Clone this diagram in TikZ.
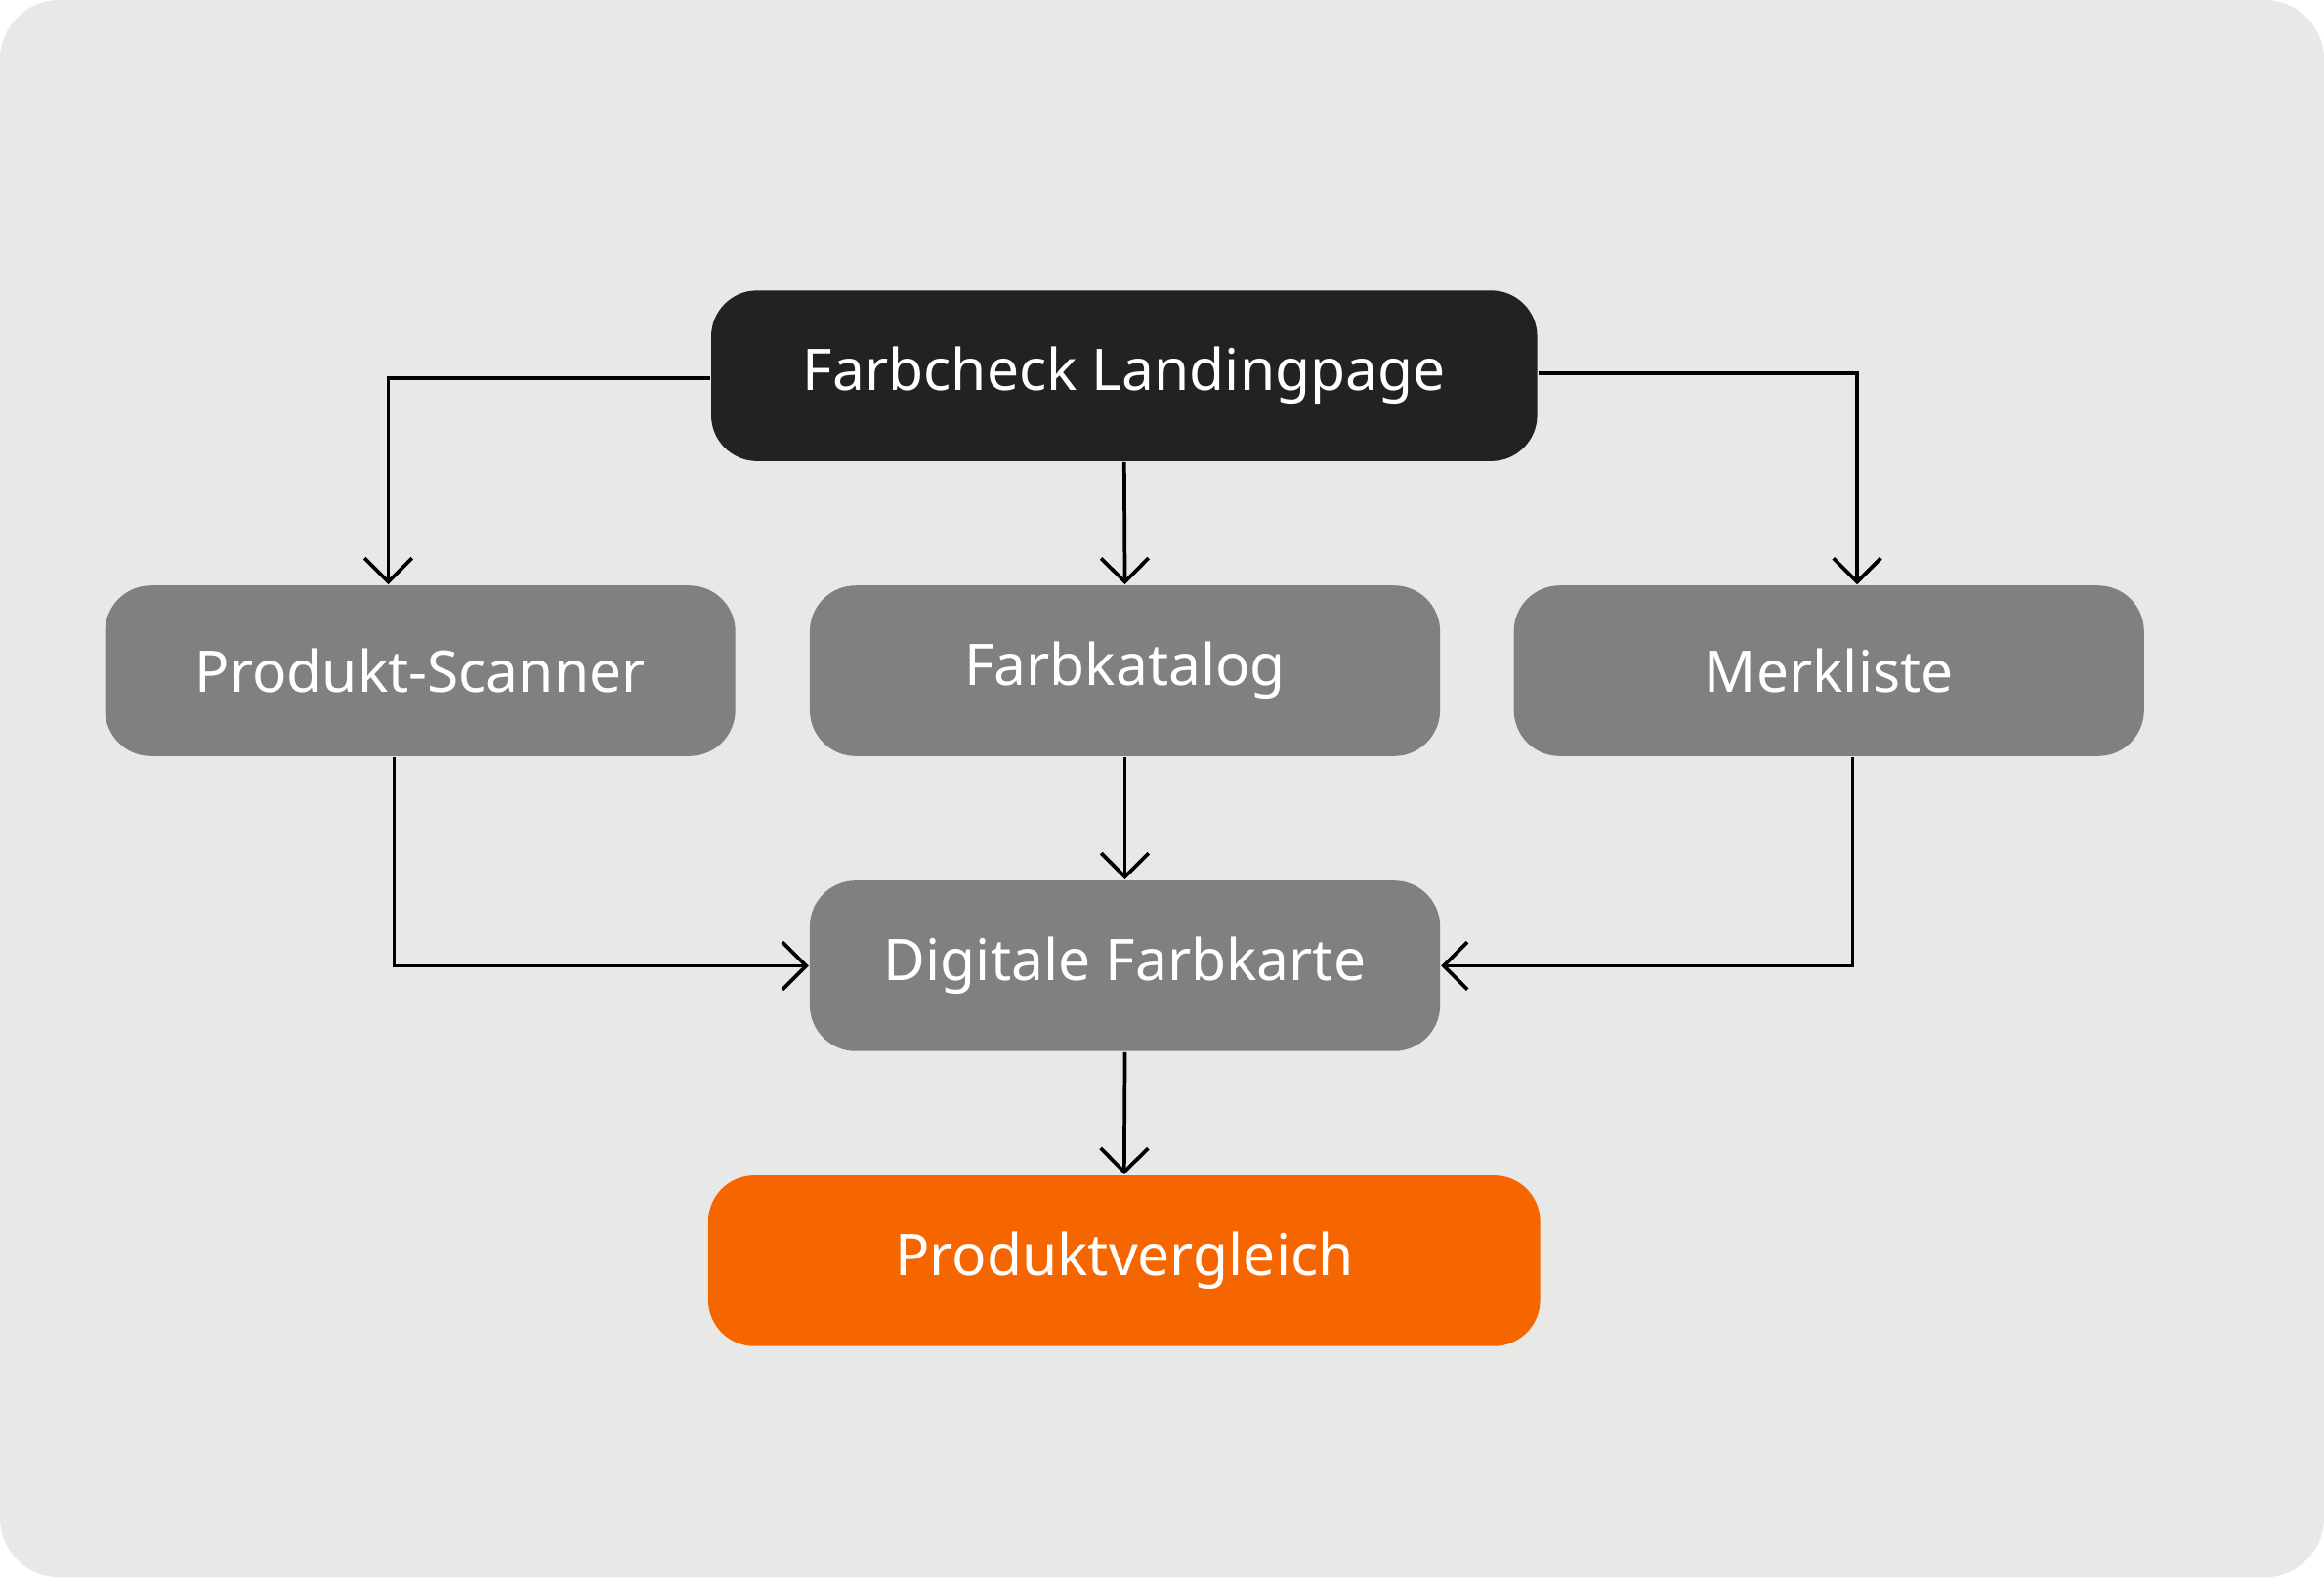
\documentclass[tikz,border=0pt]{standalone}
\usepackage{fontspec}
\setmainfont{Noto Sans}
\usetikzlibrary{arrows.meta}
\tikzset{
  box/.style={rounded corners=0.31cm, minimum height=1.15cm, text=white,
    font=\fontsize{11pt}{13pt}\selectfont\bfseries, inner sep=0pt},
  flow/.style={draw=black, line width=0.7pt, -{Straight Barb[length=1.6mm,width=3.2mm]}}
}
\begin{document}
\begin{tikzpicture}[x=0.01cm,y=-0.01cm]
% the background
\fill[fill={rgb,255:red,232;green,232;blue,230}, rounded corners=0.4cm] (0,0) rectangle (1568,1064);
\useasboundingbox (0,0) rectangle (1568,1064);

% the boxes
\node[box, fill={rgb,255:red,34;green,34;blue,34}, minimum width=5.57cm] (top) at (758.5,253.5) {Farbcheck Landingpage};
\node[box, fill={rgb,255:red,128;green,128;blue,128}, minimum width=4.25cm] (scan) at (283.5,452.5) {Produkt-Scanner};
\node[box, fill={rgb,255:red,128;green,128;blue,128}, minimum width=4.25cm] (kat) at (759,452.5) {Farbkatalog};
\node[box, fill={rgb,255:red,128;green,128;blue,128}, minimum width=4.25cm] (merk) at (1234,452.5) {Merkliste};
\node[box, fill={rgb,255:red,128;green,128;blue,128}, minimum width=4.25cm] (karte) at (759,651.5) {Digitale Farbkarte};
\node[box, fill={rgb,255:red,245;green,102;blue,0}, minimum width=5.61cm] (vergl) at (758.5,850.5) {Produktvergleich};

% the connectors
\draw[flow] ([yshift=-0.015cm]top.west) -| ([xshift=-0.215cm]scan.north);
\draw[flow] (top.south) -- (kat.north);
\draw[flow] ([yshift=0.015cm]top.east) -| ([xshift=0.19cm]merk.north);
\draw[flow] ([xshift=-0.175cm]scan.south) |- (karte.west);
\draw[flow] (kat.south) -- (karte.north);
\draw[flow] ([xshift=0.16cm]merk.south) |- (karte.east);
\draw[flow] (karte.south) -- (vergl.north);
\end{tikzpicture}
\end{document}
